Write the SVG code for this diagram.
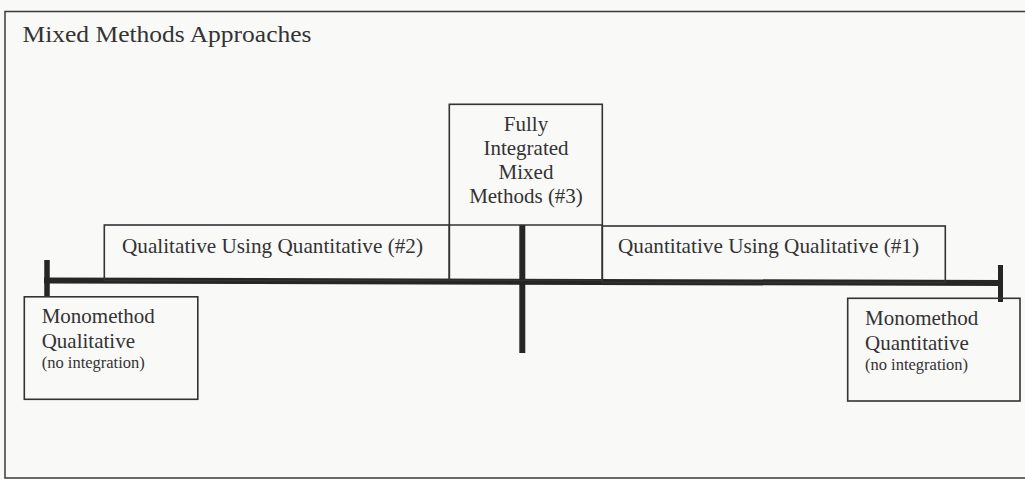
<svg xmlns="http://www.w3.org/2000/svg" width="1025" height="479" viewBox="0 0 1025 479">
<style>
.bg{fill:#f9f9f8}
.frame{fill:none;stroke:#3a3a3a;stroke-width:1.5}
.box{fill:none;stroke:#333;stroke-width:1.6}
.bar{stroke:#262626;stroke-width:6;stroke-linecap:butt}
text{font-family:"Liberation Serif","Times New Roman",serif;fill:#333}
.t{font-size:21px}
.s{font-size:16.5px}
.title{font-size:24px}
</style>
<rect class="bg" x="0" y="0" width="1025" height="479"/>
<rect class="frame" x="5" y="11.5" width="1030" height="466.5"/>
<text class="title" x="22.5" y="42" textLength="289" lengthAdjust="spacingAndGlyphs">Mixed Methods Approaches</text>
<g id="connectors">
<line class="bar" x1="44" y1="280.5" x2="1003" y2="283"/>
<line class="bar" x1="47" y1="260" x2="47" y2="297" style="stroke-width:5.5"/>
<line class="bar" x1="1000.5" y1="265" x2="1000.5" y2="302" style="stroke-width:5"/>
<line class="bar" x1="522.3" y1="225" x2="522.3" y2="353"/>
</g>
<g id="fully">
<rect class="box" x="449.3" y="104.3" width="153" height="176"/>
<line class="box" x1="449.3" y1="225" x2="602.3" y2="225"/>
<text class="t" x="526" y="131" text-anchor="middle">Fully</text>
<text class="t" x="526" y="155" text-anchor="middle">Integrated</text>
<text class="t" x="526" y="179" text-anchor="middle">Mixed</text>
<text class="t" x="526" y="203" text-anchor="middle">Methods (#3)</text>
</g>
<g id="qual-using-quant">
<rect class="box" x="104.3" y="225" width="345" height="55.5"/>
<text class="t" x="122" y="253" textLength="301" lengthAdjust="spacingAndGlyphs">Qualitative Using Quantitative (#2)</text>
</g>
<g id="quant-using-qual">
<rect class="box" x="602.3" y="226" width="343" height="56.5"/>
<text class="t" x="618" y="253" textLength="301" lengthAdjust="spacingAndGlyphs">Quantitative Using Qualitative (#1)</text>
</g>
<g id="mono-qual">
<rect class="box" x="24.3" y="296.8" width="173.5" height="102.5"/>
<text class="t" x="41.7" y="322.7">Monomethod</text>
<text class="t" x="41.7" y="347.7">Qualitative</text>
<text class="s" x="41.7" y="367.7">(no integration)</text>
</g>
<g id="mono-quant">
<rect class="box" x="847.7" y="298.3" width="172.3" height="102.7"/>
<text class="t" x="865" y="325">Monomethod</text>
<text class="t" x="865" y="349.5">Quantitative</text>
<text class="s" x="865" y="370">(no integration)</text>
</g>
</svg>
